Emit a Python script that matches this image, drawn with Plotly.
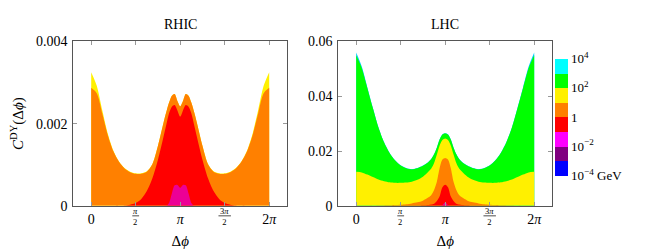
import numpy as np
import plotly.graph_objects as go

W, H = 645, 251

# x positions in units of pi
dphi_over_pi = [0, 0.0625, 0.125, 0.1875, 0.25, 0.3125, 0.375, 0.4375, 0.5, 0.5625,
                0.625, 0.6875, 0.75, 0.8125, 0.84375, 0.875, 0.90625, 0.9375, 0.96875, 1.0,
                1.03125, 1.0625, 1.09375, 1.125, 1.15625, 1.1875, 1.25, 1.3125, 1.375,
                1.4375, 1.5, 1.5625, 1.625, 1.6875, 1.75, 1.8125, 1.875, 1.9375, 2.0]

# RHIC cumulative contributions (top edge of each band)
rhic_yellow = [0.00325, 0.00292, 0.00232, 0.00175, 0.00134, 0.00108, 0.00092, 0.00083, 0.00079, 0.00079,
               0.00084, 0.00102, 0.00146, 0.00202, 0.00228, 0.00251, 0.00268, 0.00272, 0.00255, 0.00242,
               0.00255, 0.00272, 0.00268, 0.00251, 0.00228, 0.00202, 0.00146, 0.00102, 0.00084,
               0.00079, 0.00079, 0.00083, 0.00092, 0.00108, 0.00134, 0.00175, 0.00232, 0.00292, 0.00325]
rhic_orange = [0.00287, 0.00274, 0.00224, 0.00171, 0.00132, 0.00107, 0.00091, 0.00082, 0.00078, 0.00078,
               0.00083, 0.00101, 0.00146, 0.00202, 0.00228, 0.00251, 0.00268, 0.00272, 0.00255, 0.00242,
               0.00255, 0.00272, 0.00268, 0.00251, 0.00228, 0.00202, 0.00146, 0.00101, 0.00083,
               0.00078, 0.00078, 0.00082, 0.00091, 0.00107, 0.00132, 0.00171, 0.00224, 0.00274, 0.00287]
rhic_red = [0, 0, 0, 0, 0, 0, 0.00001, 0.00003, 0.00007, 0.00017,
            0.00036, 0.00067, 0.00112, 0.00168, 0.00197, 0.00225, 0.00241, 0.00245, 0.00232, 0.00217,
            0.00232, 0.00245, 0.00241, 0.00225, 0.00197, 0.00168, 0.00112, 0.00067, 0.00036,
            0.00017, 0.00007, 0.00003, 0.00001, 0, 0, 0, 0, 0, 0]
rhic_magenta = [0, 0, 0, 0, 0, 0, 0, 0, 0, 0,
                0, 0, 0, 0, 0, 0.00007, 0.00030, 0.00050, 0.00051, 0.00044,
                0.00051, 0.00050, 0.00030, 0.00007, 0, 0, 0, 0, 0,
                0, 0, 0, 0, 0, 0, 0, 0, 0, 0]

# LHC cumulative contributions
lhc_cyan = [0.0559, 0.0508, 0.0433, 0.0358, 0.0287, 0.0233, 0.0194, 0.0166, 0.0148, 0.0138,
            0.0134, 0.0138, 0.0147, 0.0161, 0.0172, 0.0189, 0.0213, 0.0243, 0.0261, 0.0265,
            0.0261, 0.0243, 0.0213, 0.0189, 0.0172, 0.0161, 0.0147, 0.0138, 0.0134,
            0.0138, 0.0148, 0.0166, 0.0194, 0.0233, 0.0287, 0.0358, 0.0433, 0.0508, 0.0559]
lhc_green = [0.0549, 0.0502, 0.0430, 0.0356, 0.0286, 0.0232, 0.0193, 0.0165, 0.0147, 0.0137,
             0.0133, 0.0137, 0.0146, 0.0160, 0.0171, 0.0188, 0.0212, 0.0242, 0.0260, 0.0264,
             0.0260, 0.0242, 0.0212, 0.0188, 0.0171, 0.0160, 0.0146, 0.0137, 0.0133,
             0.0137, 0.0147, 0.0165, 0.0193, 0.0232, 0.0286, 0.0356, 0.0430, 0.0502, 0.0549]
lhc_yellow = [0.01246, 0.0122, 0.0114, 0.0105, 0.0096, 0.0090, 0.0086, 0.0084, 0.0084, 0.0085,
              0.0088, 0.0095, 0.0106, 0.0125, 0.0136, 0.0156, 0.0187, 0.0220, 0.0240, 0.0246,
              0.0240, 0.0220, 0.0187, 0.0156, 0.0136, 0.0125, 0.0106, 0.0095, 0.0088,
              0.0085, 0.0084, 0.0084, 0.0086, 0.0090, 0.0096, 0.0105, 0.0114, 0.0122, 0.01246]
lhc_orange = [0, 0, 0, 0, 0.0001, 0.00015, 0.0002, 0.0003, 0.0004, 0.0006,
              0.0009, 0.0013, 0.0019, 0.0031, 0.0040, 0.0058, 0.0088, 0.0138, 0.0169, 0.0175,
              0.0169, 0.0138, 0.0088, 0.0058, 0.0040, 0.0031, 0.0019, 0.0013, 0.0009,
              0.0006, 0.0004, 0.0003, 0.0002, 0.00015, 0.0001, 0, 0, 0, 0]
lhc_red = [0, 0, 0, 0, 0, 0, 0, 0, 0.00005, 0.0001,
           0.0001, 0.0001, 0.0002, 0.0003, 0.0005, 0.0008, 0.0018, 0.0035, 0.0068, 0.0077,
           0.0068, 0.0035, 0.0018, 0.0008, 0.0005, 0.0003, 0.0002, 0.0001, 0.0001,
           0.0001, 0.00005, 0, 0, 0, 0, 0, 0, 0, 0]
lhc_magenta = [0, 0, 0, 0, 0, 0, 0, 0, 0, 0,
               0, 0, 0, 0, 0, 0, 0, 0.00005, 0.0003, 0.0012,
               0.0003, 0.00005, 0, 0, 0, 0, 0, 0, 0,
               0, 0, 0, 0, 0, 0, 0, 0, 0, 0]

# colour scale (log10 of scale in GeV)
scale_exponents = [-4, -3, -2, -1, 0, 1, 2, 3, 4]
scale_colors = ["#0000FF", "#800080", "#FF00FF", "#FF0000", "#FF8000", "#FFF000", "#00FF00", "#00FFFF"]
scale_tickvals = [-4, -2, 0, 2, 4]
scale_ticktext = ["10<sup>−4</sup> GeV", "10<sup>−2</sup>", "1", "10<sup>2</sup>", "10<sup>4</sup>"]

x_major_over_pi = [0, 1, 2]
x_major_text = ["0", "<i>π</i>", "2<i>π</i>"]
x_minor_over_pi = [0.5, 1.5]
x_minor_text = ["<i>π</i><br>2", "3<i>π</i><br>2"]
rhic_yticks = [0, 0.002, 0.004]
rhic_yticktext = ["0", "0.002", "0.004"]
lhc_yticks = [0, 0.02, 0.04, 0.06]
lhc_yticktext = ["0", "0.02", "0.04", "0.06"]

FONT = "Liberation Serif"
dphi = np.pi * np.array(dphi_over_pi)

fig = go.Figure()

def add_band(yvals, color, xa, ya):
    fig.add_trace(go.Scatter(x=dphi, y=yvals, mode="lines", fill="tozeroy",
                             fillcolor=color, line=dict(width=0, shape="spline", smoothing=0.8),
                             xaxis=xa, yaxis=ya, showlegend=False, hoverinfo="skip"))

for vals, col in [(rhic_yellow, "#FFF000"), (rhic_orange, "#FF8000"),
                  (rhic_red, "#FF0000"), (rhic_magenta, "#EC0096")]:
    add_band(vals, col, "x", "y")
for vals, col in [(lhc_cyan, "#00CCFF"), (lhc_green, "#00FF00"), (lhc_yellow, "#FFF000"),
                  (lhc_orange, "#FF8000"), (lhc_red, "#FF0000"), (lhc_magenta, "#EC0096")]:
    add_band(vals, col, "x2", "y2")

# colour bar
cs = []
n = len(scale_colors)
for i, c in enumerate(scale_colors):
    cs.append([i / n, c])
    cs.append([(i + 1) / n, c])
fig.add_trace(go.Scatter(x=[None], y=[None], mode="markers", showlegend=False, hoverinfo="skip",
                         marker=dict(color=[0], cmin=scale_exponents[0], cmax=scale_exponents[-1],
                                     colorscale=cs, showscale=True,
                                     colorbar=dict(x=547 / W, xanchor="left", xpad=0,
                                                   y=1 - 108.5 / H, yanchor="middle", ypad=0,
                                                   len=117, lenmode="pixels", thickness=13,
                                                   outlinewidth=0, ticks="", tickvals=scale_tickvals,
                                                   ticktext=scale_ticktext,
                                                   tickfont=dict(family=FONT, size=13, color="black"))),
                         xaxis="x2", yaxis="y2"))

ydom = [1 - 203 / H, 1 - 28 / H]
axcommon = dict(showline=True, linecolor="#555", linewidth=1, mirror="allticks", ticks="inside",
                ticklen=4, tickcolor="#999", tickwidth=0.8, showgrid=False, zeroline=False,
                tickfont=dict(family=FONT, size=14, color="black"))
xr = [-0.2 * np.pi, 2.2 * np.pi]
xtv = list(np.pi * np.array(x_major_over_pi))
xminor = dict(tickvals=list(np.pi * np.array(x_minor_over_pi)), ticks="inside", ticklen=4,
              tickcolor="#999", tickwidth=0.8, showgrid=False)
xtitle = dict(text="Δ<i>ϕ</i>", font=dict(family=FONT, size=15, color="black"), standoff=9)

fig.update_layout(
    width=W, height=H, margin=dict(l=0, r=0, t=0, b=0),
    paper_bgcolor="white", plot_bgcolor="white",
    xaxis=dict(domain=[65.4 / W, 279 / W], range=xr, tickvals=xtv, ticktext=x_major_text,
               minor=xminor, anchor="y", title=xtitle, **axcommon),
    yaxis=dict(domain=ydom, range=[0, 0.004], tickvals=rhic_yticks, ticktext=rhic_yticktext,
               anchor="x", ticklabelstandoff=2,
               title=dict(text="<i>C</i><sup>DY</sup>(Δ<i>ϕ</i>)",
                          font=dict(family=FONT, size=15, color="black"), standoff=13),
               **axcommon),
    xaxis2=dict(domain=[330.4 / W, 544 / W], range=xr, tickvals=xtv, ticktext=x_major_text,
                minor=xminor, anchor="y2", title=xtitle, **axcommon),
    yaxis2=dict(domain=ydom, range=[0, 0.06], tickvals=lhc_yticks, ticktext=lhc_yticktext,
                anchor="x2", ticklabelstandoff=2, **axcommon),
)

ann = [
    dict(text="RHIC", x=172.2 / W, y=1 - 10 / H, xref="paper", yref="paper", showarrow=False,
         font=dict(family=FONT, size=14, color="black"), xanchor="center", yanchor="middle"),
    dict(text="LHC", x=437.2 / W, y=1 - 10 / H, xref="paper", yref="paper", showarrow=False,
         font=dict(family=FONT, size=14, color="black"), xanchor="center", yanchor="middle"),
]
shapes = []
for xa in ["x", "x2"]:
    for frac, txt, half in zip(x_minor_over_pi, x_minor_text, [0.12, 0.22]):
        xv = frac * np.pi
        ann.append(dict(text=txt, x=xv, y=1 - 214.3 / H, xref=xa, yref="paper", showarrow=False,
                        font=dict(family=FONT, size=8.5, color="black"), xanchor="center",
                        yanchor="middle", borderpad=0))
        shapes.append(dict(type="line", xref=xa, yref="paper", x0=xv - half, x1=xv + half,
                           y0=1 - 213.6 / H, y1=1 - 213.6 / H, line=dict(color="black", width=0.7)))
fig.update_layout(annotations=ann, shapes=shapes)

fig.write_html("out.html")
